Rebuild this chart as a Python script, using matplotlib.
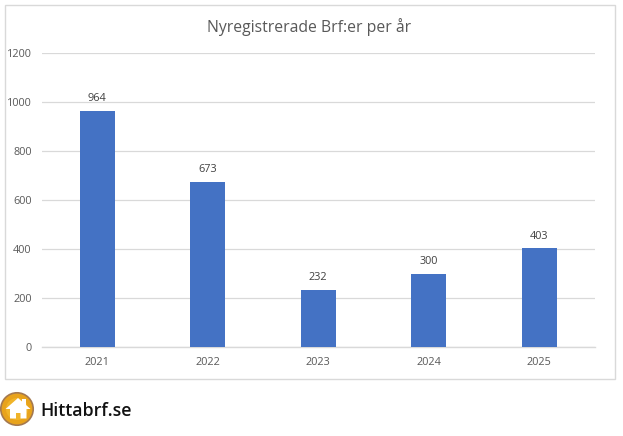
import matplotlib
matplotlib.use("Agg")
import matplotlib.pyplot as plt
from matplotlib.patches import Circle, Polygon, Rectangle

years = ["2021", "2022", "2023", "2024", "2025"]
counts = [964, 673, 232, 300, 403]
yticks = [0, 200, 400, 600, 800, 1000, 1200]
title = "Nyregistrerade Brf:er per år"
brand = "Hittabrf.se"

W, H = 623, 436
plt.rcParams["font.family"] = ["Open Sans", "DejaVu Sans"]
fig = plt.figure(figsize=(W / 100, H / 100), dpi=100, facecolor="white")

# overlay in pixel coordinates for frame and logo
ov = fig.add_axes([0, 0, 1, 1])
ov.set_xlim(0, W)
ov.set_ylim(H, 0)
ov.axis("off")
ov.add_patch(Rectangle((4.5, 5.5), 610, 373, fc="white", ec="#D9D9D9", lw=1))
ov.add_patch(Circle((17, 409), 16.2, fc="#E8A31C", ec="#A5794F", lw=1.2))
ov.add_patch(Circle((17, 409), 11, fc="#F0B429", ec="none"))
ov.add_patch(Polygon([(5.5, 409), (18, 398), (22, 401.5), (22, 399), (26, 399), (26, 405), (30.5, 409),
                      (26.5, 409), (26.5, 418.5), (20.5, 418.5), (20.5, 413), (16, 413), (16, 418.5),
                      (10, 418.5), (10, 409)],
                     closed=True, fc="white", ec="none"))
ov.text(40.5, 410.5, brand, fontsize=12.8, family=["Open Sans", "DejaVu Sans"], color="#111111",
        va="center", ha="left", fontweight="semibold")

# main axes
left, right, top, bottom = 42, 594.5, 53, 347
ax = fig.add_axes([left / W, 1 - bottom / H, (right - left) / W, (bottom - top) / H])
ax.patch.set_alpha(0)
x = range(len(years))
ax.bar(x, counts, width=0.316, color="#4472C4", zorder=3)
ax.set_xlim(-0.5, len(years) - 0.5)
ax.set_ylim(0, 1200)
ax.set_yticks(yticks)
ax.set_xticks(list(x))
ax.set_xticklabels(years)
ax.tick_params(length=0, labelsize=7.8, labelcolor="#595959")
ax.tick_params(axis="y", pad=7.5)
ax.tick_params(axis="x", pad=7.5)
ax.grid(axis="y", color="#D9D9D9", lw=0.9, zorder=0)
ax.set_axisbelow(True)
for s in ["top", "right", "left"]:
    ax.spines[s].set_visible(False)
ax.spines["bottom"].set_color("#D9D9D9")
ax.spines["bottom"].set_linewidth(1)
for i, v in zip(x, counts):
    ax.annotate(str(v), (i, v), xytext=(0, 4.8), textcoords="offset points",
                ha="center", va="bottom", fontsize=7.8, color="#404040")
fig.text(309 / W, 1 - 27.5 / H, title, fontsize=11.3, color="#595959", ha="center", va="center")

fig.savefig("out.png", dpi=100)
